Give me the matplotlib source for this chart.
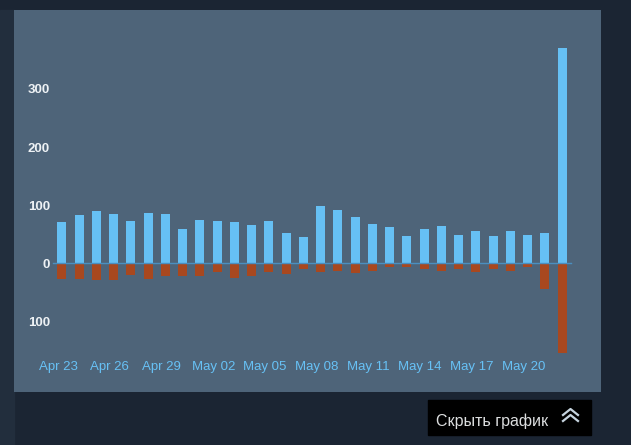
#!/usr/bin/env python

import matplotlib.pyplot as plt
from matplotlib.patches import Rectangle
from matplotlib.transforms import ScaledTranslation

# daily values, Apr 23 .. May 22
days = list(range(30))
positive = [71, 82, 90, 85, 72, 87, 84, 58, 74, 73, 70, 66, 73, 52, 44,
            98, 92, 79, 67, 62, 47, 59, 64, 49, 55, 47, 56, 48, 52, 371]
negative = [-27, -28, -29, -29, -21, -28, -23, -22, -22, -16, -26, -23, -16, -19, -10,
            -15, -13, -17, -14, -7, -7, -11, -14, -11, -15, -10, -13, -7, -45, -156]
tick_pos = [0, 3, 6, 9, 12, 15, 18, 21, 24, 27]
tick_labels = ["Apr 23", "Apr 26", "Apr 29", "May 02", "May 05",
               "May 08", "May 11", "May 14", "May 17", "May 20"]
y_ticks = [300, 200, 100, 0, -100]
y_labels = ["300", "200", "100", "0", "100"]

BG = "#1b2533"
PANEL = "#4e6479"
BLUE = "#66c0f4"
ORANGE = "#a8481f"

W, H = 631, 445


def px(x0, y0, x1, y1):
    # pixel box (top-left origin) -> figure fraction rect
    return [x0 / W, 1 - y1 / H, (x1 - x0) / W, (y1 - y0) / H]


def plot_data():
    fig = plt.figure(figsize=(W / 100, H / 100), dpi=100, facecolor=BG)

    # left strip
    fig.patches.append(Rectangle((0, 0), 14 / W, 1 - 10 / H, transform=fig.transFigure,
                                 color="#222e3d", zorder=-1))

    ax = fig.add_axes(px(14, 10, 601, 392))
    ax.set_facecolor(PANEL)
    ax.bar(days, positive, width=0.52, color=BLUE, zorder=2)
    ax.bar(days, negative, width=0.52, color=ORANGE, zorder=2)
    ax.plot([-0.5, 29.5], [0, 0], color="#4a8fc0", lw=1, zorder=3)

    ax.set_xlim(-2.78, 31.25)
    ax.set_ylim(-222.4, 436.2)

    ax.set_xticks(tick_pos)
    ax.set_xticklabels(tick_labels, fontsize=9.5, color="#67c1f5",
                       family="Liberation Sans")
    ax.set_yticks(y_ticks)
    ax.set_yticklabels(y_labels, fontsize=9.5, color="#eef2f5", fontweight="bold",
                       family="Liberation Sans")
    ax.tick_params(axis="x", length=0, pad=-22)
    ax.tick_params(axis="y", length=0, pad=-26)
    shift = ScaledTranslation(-4 / 100, 0, fig.dpi_scale_trans)
    for lab in ax.get_xticklabels():
        lab.set_transform(lab.get_transform() + shift)
    for s in ax.spines.values():
        s.set_visible(False)

    # "hide chart" button
    fig.patches.append(Rectangle((428 / W, 1 - 435 / H), 163 / W, 35 / H,
                                 transform=fig.transFigure, color="#000000", zorder=1))
    fig.text(436 / W, 1 - 421 / H, "Скрыть график", color="#dcdedf", fontsize=11.5,
             family="Liberation Sans", va="center", ha="left")
    for dy in (0, 6):
        fig.lines.append(plt.Line2D([563 / W, 570.5 / W, 578 / W],
                                    [1 - (415 + dy) / H, 1 - (409 + dy) / H,
                                     1 - (415 + dy) / H],
                                    transform=fig.transFigure, color="#c6d4df", lw=1.6))

    plt.savefig("out.png", dpi=100, facecolor=BG)
    plt.close()


def main():
    plot_data()


if __name__ == "__main__":
    main()
